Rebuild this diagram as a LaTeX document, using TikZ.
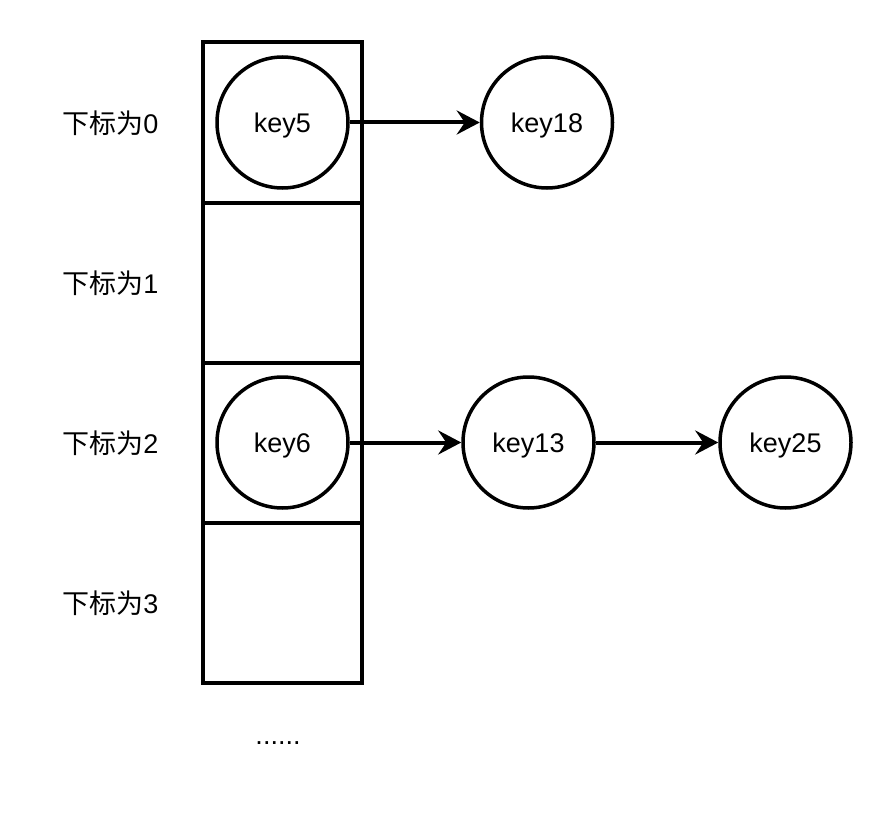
\documentclass[tikz,border=0pt]{standalone}
\usepackage{fontspec}
\setmainfont{Liberation Sans}
\newfontfamily\cjk{Noto Sans CJK SC}
\usepackage{tikz}
\usetikzlibrary{arrows.meta, positioning}

\tikzset{
    cell/.style={draw, line width=4pt, minimum width=159pt, minimum height=160pt, inner sep=0pt, outer sep=0pt},
    key/.style={draw, circle, line width=3.5pt, minimum size=131pt, inner sep=0pt, text depth=0pt, font=\fontsize{27}{30}\selectfont},
    idx/.style={text depth=0pt, font=\fontsize{27}{30}\selectfont},
    link/.style={-{Stealth[length=23pt, width=24pt, inset=8pt]}, line width=4pt}
}

\begin{document}
\begin{tikzpicture}[x=1pt, y=1pt]
        \useasboundingbox (0,0) rectangle (892,-824);

        % bucket array
        \node[cell] (c0) at (282.5,-122.5) {};
        \node[cell, below=0pt of c0] (c1) {};
        \node[cell, below=0pt of c1] (c2) {};
        \node[cell, below=0pt of c2] (c3) {};
        \node[idx] (dots) at (278,-743) {......};

        \node[idx] (i0) at (110.5,-122.5) {{\cjk 下标为}0};
        \node[idx] (i1) at (110.5,-282.5) {{\cjk 下标为}1};
        \node[idx] (i2) at (110.5,-442.5) {{\cjk 下标为}2};
        \node[idx] (i3) at (110.5,-602.5) {{\cjk 下标为}3};

        % chains
        \node[key] (k5) at (c0) {key5};
        \node[key] (k18) at (547,-122.5) {key18};
        \node[key] (k6) at (c2) {key6};
        \node[key] (k13) at (528.5,-442.5) {key13};
        \node[key] (k25) at (785.5,-442.5) {key25};

        \draw[link] (k5) -- (k18);
        \draw[link] (k6) -- (k13);
        \draw[link] (k13) -- (k25);
    \end{tikzpicture}
\end{document}
